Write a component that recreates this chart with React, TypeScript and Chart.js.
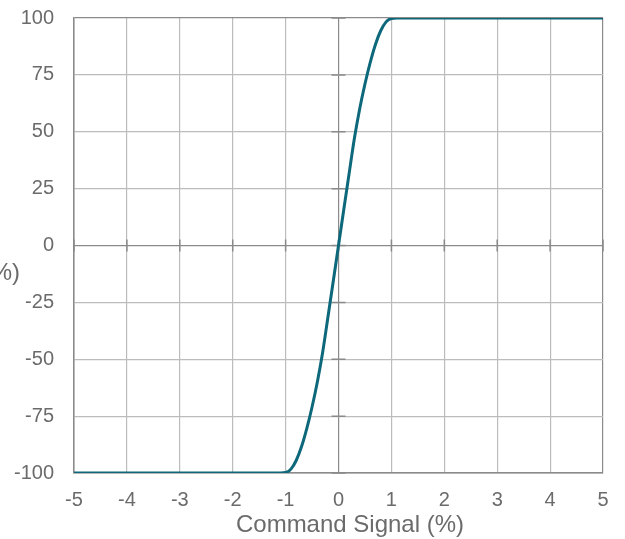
import React, { useEffect, useRef } from "react";
import { Chart, registerables } from "chart.js";

Chart.register(...registerables);

const xValues = [-5, -1.1, -1.0, -0.9, -0.8, -0.7, -0.6, -0.5, -0.4, -0.3, -0.2, -0.1, 0, 0.1, 0.2, 0.3, 0.4, 0.5, 0.6, 0.7, 0.8, 0.9, 1.0, 1.1, 5];
const yValues = [-100, -100, -99.8, -98.3, -94.5, -88.5, -80.5, -71, -60, -47, -31.5, -15.8, 0, 15.8, 31.5, 47, 60, 71, 80.5, 88.5, 94.5, 98.3, 99.8, 100, 100];
const xTitle = "Command Signal (%)";
const yTitle = "Output (%)";

const GRID = "#bcbcbc";
const AXIS = "#8a8a8a";
const TEXT = "#6b6b6b";
const LINE = "#0c687a";
const FONT = "'Liberation Sans', Arial, sans-serif";

export default function App() {
  const ref = useRef<HTMLCanvasElement | null>(null);
  useEffect(() => {
    if (!ref.current) return;
    const crossTicks = {
      id: "crossTicks",
      beforeDatasetsDraw(chart: any) {
        const { ctx, scales } = chart;
        const xs = scales.x;
        const ys = scales.y;
        const x0 = xs.getPixelForValue(0);
        const y0 = ys.getPixelForValue(0);
        ctx.save();
        ctx.strokeStyle = AXIS;
        ctx.lineWidth = 1.5;
        ctx.beginPath();
        xs.ticks.forEach((t: any) => {
          const px = xs.getPixelForValue(t.value);
          ctx.moveTo(px, y0 - 6);
          ctx.lineTo(px, y0 + 6);
        });
        ys.ticks.forEach((t: any) => {
          const py = ys.getPixelForValue(t.value);
          ctx.moveTo(x0 - 7, py);
          ctx.lineTo(x0 + 7, py);
        });
        ctx.stroke();
        ctx.restore();
      },
      afterDraw(chart: any) {
        const { ctx } = chart;
        ctx.save();
        ctx.fillStyle = TEXT;
        ctx.font = "24px " + FONT;
        ctx.textBaseline = "alphabetic";
        ctx.textAlign = "right";
        ctx.fillText(yTitle, 20, 280);
        ctx.textAlign = "center";
        ctx.fillText(xTitle, 350, 532);
        ctx.restore();
      },
    };
    const gridColor = (c: any) => {
      const v = c.tick ? c.tick.value : null;
      return v === 0 || v === 100 || v === -100 || v === 5 || v === -5 ? AXIS : GRID;
    };
    const chart = new Chart(ref.current, {
      type: "line",
      data: {
        datasets: [
          {
            data: xValues.map((x, i) => ({ x, y: yValues[i] })),
            borderColor: LINE,
            borderWidth: 3,
            pointRadius: 0,
            cubicInterpolationMode: "monotone",
            fill: false,
          },
        ],
      },
      options: {
        responsive: false,
        animation: false,
        layout: { padding: { top: 18, right: 22, bottom: 0, left: 0 } },
        plugins: { legend: { display: false }, tooltip: { enabled: false } },
        scales: {
          x: {
            type: "linear",
            min: -5,
            max: 5,
            afterFit: (s: any) => { s.height = 66; s.paddingLeft = 0; s.paddingRight = 0; },
            ticks: { stepSize: 1, color: TEXT, font: { size: 20, family: FONT }, padding: 15, maxRotation: 0 },
            grid: { color: gridColor, lineWidth: 1.2, drawTicks: false },
            border: { color: AXIS, width: 1.5 },
          },
          y: {
            type: "linear",
            min: -100,
            max: 100,
            afterFit: (s: any) => { s.width = 74; s.paddingTop = 0; s.paddingBottom = 0; },
            ticks: { stepSize: 25, color: TEXT, font: { size: 20, family: FONT }, padding: 20 },
            grid: { color: gridColor, lineWidth: 1.2, drawTicks: false },
            border: { color: AXIS, width: 1.5 },
          },
        },
      },
      plugins: [crossTicks],
    } as any);
    return () => chart.destroy();
  }, []);
  return (
    <div style={{ position: "fixed", left: 0, top: 0, width: 625, height: 539, background: "#fff" }}>
      <canvas ref={ref} width={625} height={539} style={{ display: "block" }} />
    </div>
  );
}
